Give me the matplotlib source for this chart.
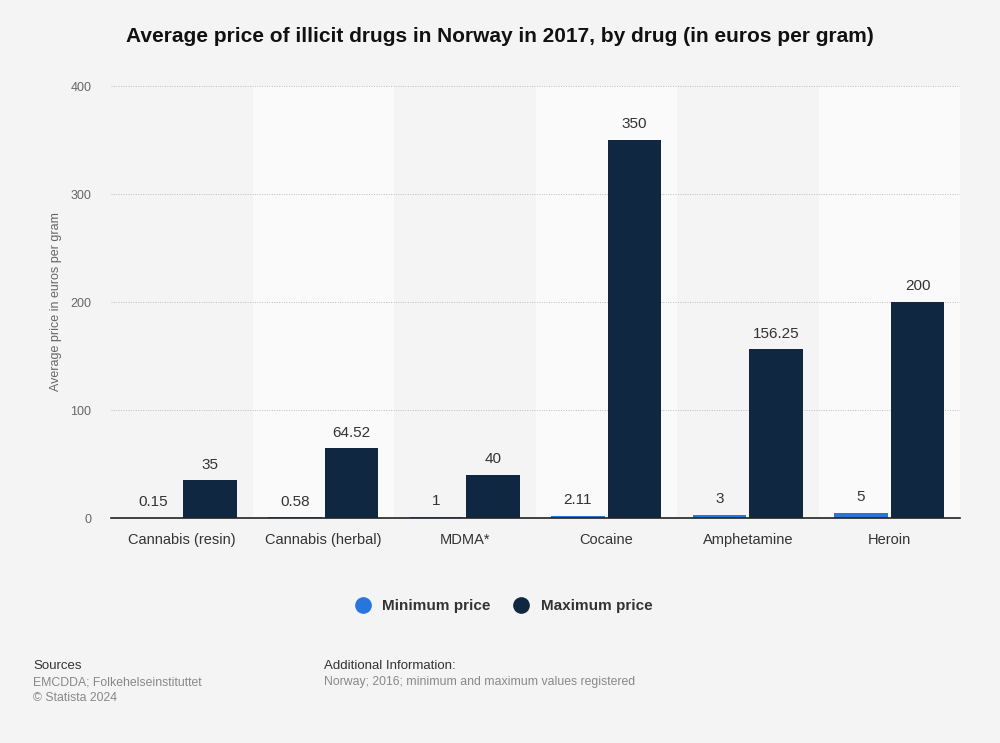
import matplotlib

matplotlib.use("Agg")
import matplotlib.pyplot as plt
import numpy as np
from matplotlib.lines import Line2D

plt.rcParams["font.family"] = ["Liberation Sans", "DejaVu Sans"]

categories = ["Cannabis (resin)", "Cannabis (herbal)", "MDMA*", "Cocaine", "Amphetamine", "Heroin"]
min_price = [0.15, 0.58, 1, 2.11, 3, 5]
max_price = [35, 64.52, 40, 350, 156.25, 200]
min_labels = ["0.15", "0.58", "1", "2.11", "3", "5"]
max_labels = ["35", "64.52", "40", "350", "156.25", "200"]
y_ticks = [0, 100, 200, 300, 400]

BG = "#f4f4f4"
BAND = "#fafafa"
BLUE = "#2876dd"
NAVY = "#0f2741"
TEXT = "#333333"
GREY = "#666666"

fig = plt.figure(figsize=(10, 7.43), dpi=100, facecolor=BG)
ax = fig.add_axes([0.111, 0.3028, 0.849, 0.5814])
ax.set_facecolor(BG)

x = np.arange(len(categories))
for i in x:
    if i % 2 == 1:
        ax.axvspan(i - 0.5, i + 0.5, color=BAND, zorder=0, lw=0)

w = 0.38
off = 0.2
ax.bar(x - off, min_price, width=w, color=BLUE, zorder=3)
ax.bar(x + off, max_price, width=w, color=NAVY, zorder=3)

for xi, v, lab in zip(x, min_price, min_labels):
    ax.text(xi - off, v + 8, lab, ha="center", va="bottom", fontsize=11, color=TEXT)
for xi, v, lab in zip(x, max_price, max_labels):
    ax.text(xi + off, v + 8, lab, ha="center", va="bottom", fontsize=11, color=TEXT)

ax.set_xlim(-0.5, len(categories) - 0.5)
ax.set_ylim(0, 400)
ax.set_yticks(y_ticks)
ax.set_yticklabels([str(t) for t in y_ticks], fontsize=9, color=GREY)
ax.set_xticks(x)
ax.set_xticklabels(categories, fontsize=10.5, color=TEXT)
ax.tick_params(axis="both", length=0)
ax.tick_params(axis="y", pad=14)
ax.tick_params(axis="x", pad=11)
ax.yaxis.grid(True, linestyle=(0, (1, 1.5)), color="#bbbbbb", linewidth=0.7, zorder=1)
for s in ["top", "right", "left"]:
    ax.spines[s].set_visible(False)
ax.spines["bottom"].set_color("#222222")
ax.spines["bottom"].set_linewidth(1.2)
ax.spines["bottom"].set_zorder(4)
ax.set_ylabel("Average price in euros per gram", fontsize=9, color=GREY, labelpad=6)

fig.text(0.5, 0.951, "Average price of illicit drugs in Norway in 2017, by drug (in euros per gram)",
         ha="center", va="center", fontsize=15, fontweight="bold", color="#111111")

handles = [
    Line2D([], [], marker="o", linestyle="", markersize=11, color=BLUE),
    Line2D([], [], marker="o", linestyle="", markersize=11, color=NAVY),
]
fig.legend(handles, ["Minimum price", "Maximum price"], loc="center", bbox_to_anchor=(0.5, 0.184),
           ncol=2, frameon=False, prop={"size": 11, "weight": "bold"}, labelcolor=TEXT,
           handletextpad=0.3, columnspacing=1.0)

fig.text(0.033, 0.104, "Sources", fontsize=9.5, color=TEXT, va="center")
fig.text(0.033, 0.082, "EMCDDA; Folkehelseinstituttet", fontsize=8.8, color="#888888", va="center")
fig.text(0.033, 0.061, "© Statista 2024", fontsize=8.8, color="#888888", va="center")
fig.text(0.324, 0.104, "Additional Information:", fontsize=9.5, color=TEXT, va="center")
fig.text(0.324, 0.082, "Norway; 2016; minimum and maximum values registered", fontsize=8.8,
         color="#888888", va="center")

fig.savefig("out.png", dpi=100, facecolor=BG)
